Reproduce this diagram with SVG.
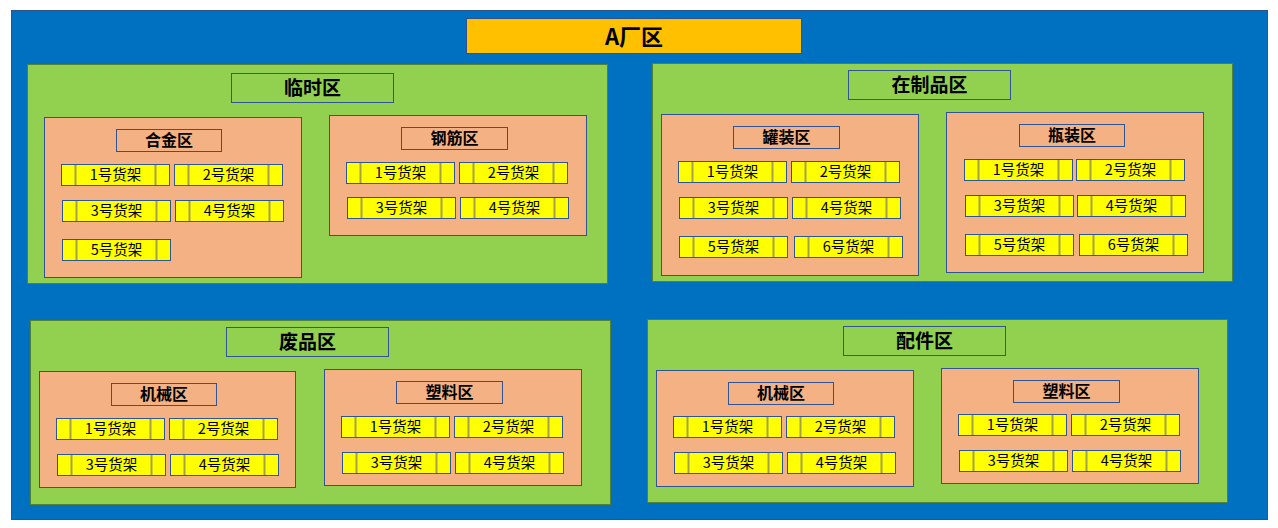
<svg xmlns="http://www.w3.org/2000/svg" width="1278" height="528" viewBox="0 0 1278 528">
<style>
text{font-family:"Noto Sans CJK SC","Liberation Sans",sans-serif;fill:#000;text-anchor:middle;dominant-baseline:central}
.bg{fill:#0070C0;stroke:#2F528F;stroke-width:1}
.head{fill:#FFC000;stroke:#2F528F;stroke-width:1}
.zone{fill:#92D050;stroke:#548235;stroke-width:1}
.ztitle{fill:#92D050;stroke:#2F5597;stroke-width:1}
.sub{fill:#F4B183;stroke:#2F5597;stroke-width:1}
.lbl{fill:#F4B183;stroke:#2F5597;stroke-width:1}
.shelf{fill:#FFFF00;stroke:#2F5597;stroke-width:1}
.div{stroke:#A2A24A;stroke-width:2}
.t1{font-size:22px;font-weight:bold}
.t2{font-size:19px;font-weight:bold}
.t3{font-size:16px;font-weight:bold}
.t4{font-size:14.5px}
</style>
<defs>
<g id="sh">
<rect class="shelf" x="0" y="0" width="108" height="21"/>
<line class="div" x1="14" y1="0.5" x2="14" y2="20.5"/>
<line class="div" x1="94" y1="0.5" x2="94" y2="20.5"/>
</g>
</defs>
<rect class="bg" x="11.5" y="10.5" width="1256" height="509"/>
<g id="factory-title">
<rect class="head" x="466.5" y="18.5" width="335" height="35"/>
<text class="t1" x="634" y="34.5">A厂区</text>
</g>

<g id="zone-linshi">
<rect class="zone" x="27.5" y="64.5" width="580" height="219"/>
<rect class="ztitle" x="231.5" y="73.5" width="162" height="29"/>
<text class="t2" x="312.5" y="86.5">临时区</text>
</g>
<g id="sub-hejin">
<rect class="sub" x="44.5" y="117.5" width="257" height="160"/>
<rect class="lbl" x="116.5" y="129.5" width="105" height="22"/>
<text class="t3" x="169" y="139">合金区</text>
<g transform="translate(61.5,164.5)"><use href="#sh"/><text class="t4" x="54" y="9">1号货架</text></g>
<g transform="translate(174.5,164.5)"><use href="#sh"/><text class="t4" x="54" y="9">2号货架</text></g>
<g transform="translate(62.5,200.5)"><use href="#sh"/><text class="t4" x="54" y="9">3号货架</text></g>
<g transform="translate(175.5,200.5)"><use href="#sh"/><text class="t4" x="54" y="9">4号货架</text></g>
<g transform="translate(62.5,239.5)"><use href="#sh"/><text class="t4" x="54" y="9">5号货架</text></g>
</g>
<g id="sub-gangjin">
<rect class="sub" x="329.5" y="115.5" width="257" height="120"/>
<rect class="lbl" x="401.5" y="127.5" width="106" height="22"/>
<text class="t3" x="454.5" y="137">钢筋区</text>
<g transform="translate(346.5,162.5)"><use href="#sh"/><text class="t4" x="54" y="9">1号货架</text></g>
<g transform="translate(459.5,162.5)"><use href="#sh"/><text class="t4" x="54" y="9">2号货架</text></g>
<g transform="translate(347.5,197.5)"><use href="#sh"/><text class="t4" x="54" y="9">3号货架</text></g>
<g transform="translate(460.5,197.5)"><use href="#sh"/><text class="t4" x="54" y="9">4号货架</text></g>
</g>

<g id="zone-zaizhipin">
<rect class="zone" x="652.5" y="63.5" width="580" height="218"/>
<rect class="ztitle" x="848.5" y="70.5" width="162" height="29"/>
<text class="t2" x="929.5" y="83.5">在制品区</text>
</g>
<g id="sub-guanzhuang">
<rect class="sub" x="661.5" y="114.5" width="257" height="161"/>
<rect class="lbl" x="733.5" y="126.5" width="106" height="22"/>
<text class="t3" x="786.5" y="136">罐装区</text>
<g transform="translate(678.5,161.5)"><use href="#sh"/><text class="t4" x="54" y="9">1号货架</text></g>
<g transform="translate(791.5,161.5)"><use href="#sh"/><text class="t4" x="54" y="9">2号货架</text></g>
<g transform="translate(679.5,197.5)"><use href="#sh"/><text class="t4" x="54" y="9">3号货架</text></g>
<g transform="translate(792.5,197.5)"><use href="#sh"/><text class="t4" x="54" y="9">4号货架</text></g>
<g transform="translate(679.5,236.5)"><use href="#sh"/><text class="t4" x="54" y="9">5号货架</text></g>
<g transform="translate(794.5,236.5)"><use href="#sh"/><text class="t4" x="54" y="9">6号货架</text></g>
</g>
<g id="sub-pingzhuang">
<rect class="sub" x="946.5" y="112.5" width="257" height="160"/>
<rect class="lbl" x="1019.5" y="124.5" width="105" height="22"/>
<text class="t3" x="1072" y="134">瓶装区</text>
<g transform="translate(964.5,159.5)"><use href="#sh"/><text class="t4" x="54" y="9">1号货架</text></g>
<g transform="translate(1076.5,159.5)"><use href="#sh"/><text class="t4" x="54" y="9">2号货架</text></g>
<g transform="translate(965.5,195.5)"><use href="#sh"/><text class="t4" x="54" y="9">3号货架</text></g>
<g transform="translate(1077.5,195.5)"><use href="#sh"/><text class="t4" x="54" y="9">4号货架</text></g>
<g transform="translate(965.5,234.5)"><use href="#sh"/><text class="t4" x="54" y="9">5号货架</text></g>
<g transform="translate(1079.5,234.5)"><use href="#sh"/><text class="t4" x="54" y="9">6号货架</text></g>
</g>

<g id="zone-feipin">
<rect class="zone" x="30.5" y="320.5" width="580" height="184"/>
<rect class="ztitle" x="226.5" y="327.5" width="162" height="29"/>
<text class="t2" x="307.5" y="340.5">废品区</text>
</g>
<g id="sub-feipin-jixie">
<rect class="sub" x="39.5" y="371.5" width="256" height="116"/>
<rect class="lbl" x="111.5" y="383.5" width="105" height="22"/>
<text class="t3" x="164" y="393">机械区</text>
<g transform="translate(56.5,418.5)"><use href="#sh"/><text class="t4" x="54" y="9">1号货架</text></g>
<g transform="translate(169.5,418.5)"><use href="#sh"/><text class="t4" x="54" y="9">2号货架</text></g>
<g transform="translate(57.5,454.5)"><use href="#sh"/><text class="t4" x="54" y="9">3号货架</text></g>
<g transform="translate(170.5,454.5)"><use href="#sh"/><text class="t4" x="54" y="9">4号货架</text></g>
</g>
<g id="sub-feipin-suliao">
<rect class="sub" x="324.5" y="369.5" width="257" height="116"/>
<rect class="lbl" x="396.5" y="381.5" width="106" height="22"/>
<text class="t3" x="449.5" y="391">塑料区</text>
<g transform="translate(341.5,416.5)"><use href="#sh"/><text class="t4" x="54" y="9">1号货架</text></g>
<g transform="translate(454.5,416.5)"><use href="#sh"/><text class="t4" x="54" y="9">2号货架</text></g>
<g transform="translate(342.5,452.5)"><use href="#sh"/><text class="t4" x="54" y="9">3号货架</text></g>
<g transform="translate(455.5,452.5)"><use href="#sh"/><text class="t4" x="54" y="9">4号货架</text></g>
</g>

<g id="zone-peijian">
<rect class="zone" x="647.5" y="319.5" width="580" height="183"/>
<rect class="ztitle" x="843.5" y="326.5" width="162" height="29"/>
<text class="t2" x="924.5" y="339.5">配件区</text>
</g>
<g id="sub-peijian-jixie">
<rect class="sub" x="656.5" y="370.5" width="257" height="116"/>
<rect class="lbl" x="728.5" y="382.5" width="105" height="22"/>
<text class="t3" x="781" y="392">机械区</text>
<g transform="translate(673.5,416.5)"><use href="#sh"/><text class="t4" x="54" y="9">1号货架</text></g>
<g transform="translate(786.5,416.5)"><use href="#sh"/><text class="t4" x="54" y="9">2号货架</text></g>
<g transform="translate(674.5,452.5)"><use href="#sh"/><text class="t4" x="54" y="9">3号货架</text></g>
<g transform="translate(787.5,452.5)"><use href="#sh"/><text class="t4" x="54" y="9">4号货架</text></g>
</g>
<g id="sub-peijian-suliao">
<rect class="sub" x="941.5" y="368.5" width="257" height="115"/>
<rect class="lbl" x="1013.5" y="380.5" width="106" height="22"/>
<text class="t3" x="1066.5" y="390">塑料区</text>
<g transform="translate(958.5,414.5)"><use href="#sh"/><text class="t4" x="54" y="9">1号货架</text></g>
<g transform="translate(1071.5,414.5)"><use href="#sh"/><text class="t4" x="54" y="9">2号货架</text></g>
<g transform="translate(959.5,450.5)"><use href="#sh"/><text class="t4" x="54" y="9">3号货架</text></g>
<g transform="translate(1072.5,450.5)"><use href="#sh"/><text class="t4" x="54" y="9">4号货架</text></g>
</g>
</svg>
